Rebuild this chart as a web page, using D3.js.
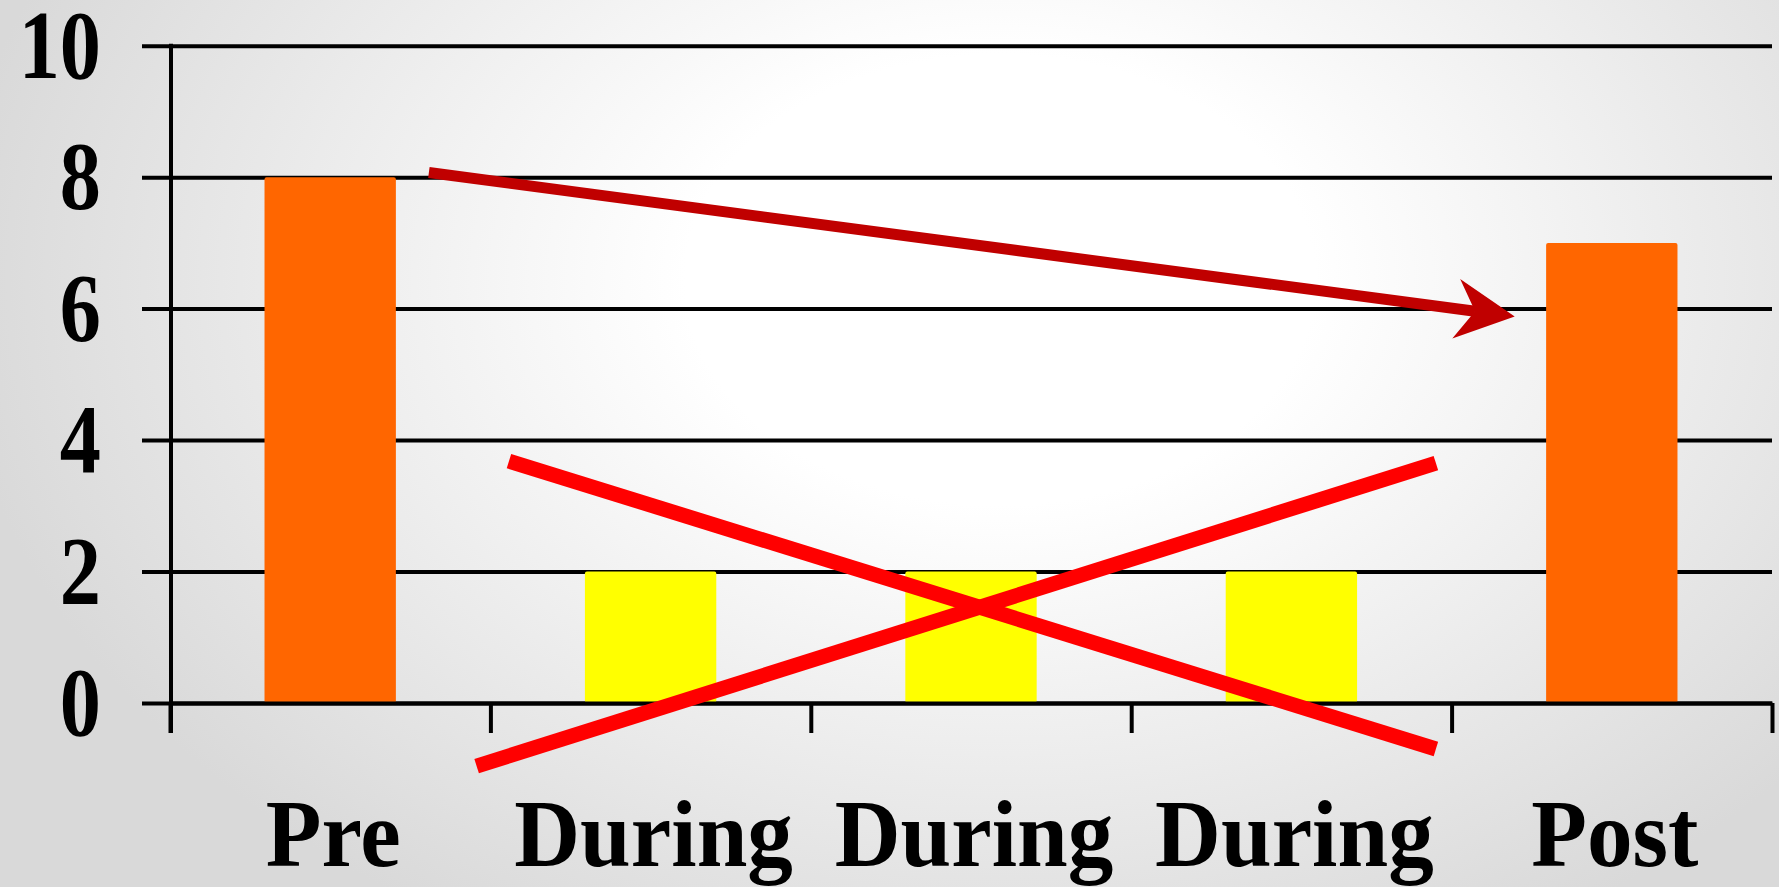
<!DOCTYPE html>
<html>
<head>
<meta charset="utf-8">
<script src="https://cdn.jsdelivr.net/npm/d3@7/dist/d3.min.js"></script>
<style>
  html, body { margin: 0; padding: 0; overflow: hidden; background: #fff; }
  svg { display: block; }
  text { font-family: "Liberation Serif", "Times New Roman", serif; font-weight: bold; fill: #000; }
</style>
</head>
<body>
<svg id="chart" width="1779" height="887"></svg>
<script>
// ---- data ----
const categories = ["Pre", "During", "During", "During", "Post"];
const values = [8, 2, 2, 2, 7];
const barColors = ["#ff6600", "#ffff00", "#ffff00", "#ffff00", "#ff6600"];
const yTicks = [0, 2, 4, 6, 8, 10];
// annotations in (category position, value) units
const arrowFrom = [0.808, 8.07];
const arrowTo = [4.197, 5.88];
const crossLine1 = [[1.058, 3.68], [3.951, -0.70]];
const crossLine2 = [[0.957, -0.96], [3.951, 3.65]];

// ---- layout ----
const W = 1779, H = 887;
const plotL = 170, plotR = 1772, gridL = 142;
const svg = d3.select("#chart");

// background gradient
const defs = svg.append("defs");
const grad = defs.append("radialGradient")
  .attr("id", "bg").attr("gradientUnits", "userSpaceOnUse")
  .attr("cx", 0).attr("cy", 0).attr("r", 1)
  .attr("gradientTransform", "translate(1000,280) scale(1050,750)");
grad.append("stop").attr("offset", 0).attr("stop-color", "#ffffff");
grad.append("stop").attr("offset", 0.3).attr("stop-color", "#ffffff");
grad.append("stop").attr("offset", 1).attr("stop-color", "#d9d9d9");
svg.append("rect").attr("width", W).attr("height", H).attr("fill", "url(#bg)");

const y = d3.scaleLinear().domain([0, 10]).range([703, 45.7]);
const xBand = d3.scaleBand().domain(d3.range(categories.length))
  .range([plotL, plotR]).paddingInner(0.59).paddingOuter(0.295);
const xU = d3.scaleLinear().domain([0, categories.length]).range([plotL, plotR]);

// gridlines
const grid = svg.append("g").attr("transform", `translate(${gridL},0)`)
  .call(d3.axisLeft(y).tickValues(yTicks).tickSize(-(plotR - gridL)).tickFormat(""));
grid.select(".domain").remove();
grid.selectAll(".tick line").attr("stroke", "#000").attr("stroke-width", 4);

// bars
svg.append("g").selectAll("rect").data(values).join("rect")
  .attr("x", (d, i) => xBand(i))
  .attr("y", d => y(d))
  .attr("width", xBand.bandwidth())
  .attr("height", d => y(0) - y(d))
  .attr("rx", 2)
  .attr("fill", (d, i) => barColors[i]);

// x axis with ticks between categories
const xAxis = svg.append("g").attr("transform", `translate(0,${y(0)})`)
  .call(d3.axisBottom(xU).tickValues(d3.range(categories.length + 1)).tickSize(30).tickSizeOuter(0).tickFormat(""));
xAxis.select(".domain").attr("stroke", "#000").attr("stroke-width", 4);
xAxis.selectAll(".tick line").attr("stroke", "#000").attr("stroke-width", 4);

// y axis vertical line
svg.append("line")
  .attr("x1", plotL + 1).attr("x2", plotL + 1)
  .attr("y1", y(10) - 2).attr("y2", y(0) + 30)
  .attr("stroke", "#000").attr("stroke-width", 4);

// y tick labels (condensed bold serif)
svg.append("g").selectAll("text").data(yTicks).join("text")
  .attr("transform", d => `translate(101,${y(d) + 32}) scale(0.84,1)`)
  .attr("text-anchor", "end")
  .attr("font-size", 98)
  .text(d => d);

// category labels
svg.append("g").selectAll("text").data(categories).join("text")
  .attr("transform", (d, i) => `translate(${xBand(i) + xBand.bandwidth() / 2 + 3},866) scale(0.95,1)`)
  .attr("text-anchor", "middle")
  .attr("font-size", 96)
  .text(d => d);

// red cross
const px = p => [xU(p[0]), y(p[1])];
[crossLine1, crossLine2].forEach(seg => {
  const a = px(seg[0]), b = px(seg[1]);
  svg.append("line")
    .attr("x1", a[0]).attr("y1", a[1]).attr("x2", b[0]).attr("y2", b[1])
    .attr("stroke", "#ff0000").attr("stroke-width", 15);
});

// dark red arrow
const s = px(arrowFrom), t = px(arrowTo);
const dx = t[0] - s[0], dy = t[1] - s[1];
const len = Math.hypot(dx, dy);
const ux = dx / len, uy = dy / len, nx = -uy, ny = ux;
const pt = (a, b) => [t[0] + ux * a + nx * b, t[1] + uy * a + ny * b];
const notch = pt(-40, 0);
svg.append("line")
  .attr("x1", s[0]).attr("y1", s[1]).attr("x2", notch[0]).attr("y2", notch[1])
  .attr("stroke", "#c00000").attr("stroke-width", 11);
svg.append("path")
  .attr("d", d3.line()([t, pt(-59, -30), notch, pt(-59, 30)]) + "Z")
  .attr("fill", "#c00000");
</script>
</body>
</html>
